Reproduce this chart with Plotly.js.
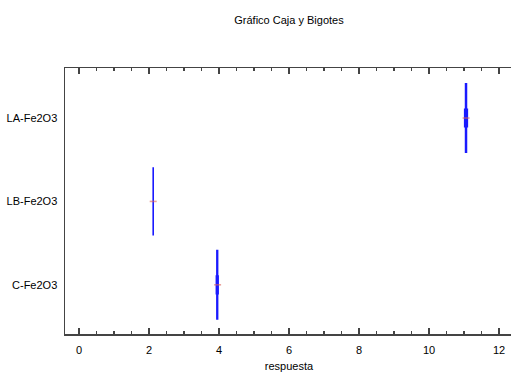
<!DOCTYPE html>
<html>
<head>
<meta charset="utf-8">
<script src="https://cdn.plot.ly/plotly-3.0.1.min.js"></script>
<style>
html,body{margin:0;padding:0;overflow:hidden;background:#fff;width:511px;height:374px;}
#chart{width:520px;height:374px;}
</style>
</head>
<body>
<div id="chart"></div>
<script>
// Data
var categories = ['C-Fe2O3', 'LB-Fe2O3', 'LA-Fe2O3'];
var lowerFence = [3.925, 2.12, 11.02];
var q1Values   = [3.94, 2.12, 11.045];
var medians    = [3.95, 2.12, 11.06];
var q3Values   = [3.96, 2.12, 11.07];
var upperFence = [3.975, 2.12, 11.095];
var means      = [3.96, 2.12, 11.06];
var xTickVals  = [0, 2, 4, 6, 8, 10, 12];

var traces = [];
for (var i = 0; i < categories.length; i++) {
  traces.push({
    type: 'box',
    orientation: 'h',
    y: [categories[i]],
    q1: [q1Values[i]],
    median: [medians[i]],
    q3: [q3Values[i]],
    lowerfence: [lowerFence[i]],
    upperfence: [upperFence[i]],
    width: 0.82,
    whiskerwidth: 0.28,
    line: {color: '#1a1aff', width: 1.6},
    fillcolor: '#1a1aff',
    boxpoints: false,
    hoverinfo: 'skip',
    showlegend: false
  });
}
traces.push({
  type: 'scatter',
  mode: 'markers',
  x: means,
  y: categories,
  marker: {symbol: 'line-ew', size: 5, line: {color: 'rgba(220,100,90,0.6)', width: 1.6}},
  hoverinfo: 'skip',
  showlegend: false
});

var layout = {
  width: 520,
  height: 374,
  margin: {l: 65, r: 7, t: 68, b: 40},
  paper_bgcolor: '#ffffff',
  plot_bgcolor: '#ffffff',
  font: {family: 'Liberation Sans, Arial, sans-serif', size: 11, color: '#000'},
  title: {
    text: 'Gráfico Caja y Bigotes',
    font: {family: 'Liberation Sans, Arial, sans-serif', size: 11, color: '#000'},
    x: 0.5, xref: 'paper', xanchor: 'center',
    y: 0.946, yref: 'container', yanchor: 'middle'
  },
  xaxis: {
    range: [-0.4, 12.4],
    tickmode: 'array',
    tickvals: xTickVals,
    ticktext: xTickVals.map(String),
    ticks: 'inside',
    ticklen: 6,
    tickwidth: 1.2,
    tickcolor: '#444',
    minor: {dtick: 0.5, tick0: 0, ticks: 'inside', ticklen: 3, tickwidth: 1.2, tickcolor: '#444', showgrid: false},
    showline: true,
    linecolor: '#444',
    linewidth: 1.5,
    mirror: 'ticks',
    showgrid: false,
    zeroline: false,
    ticklabelstandoff: 5,
    tickfont: {size: 11, color: '#000'},
    title: {text: 'respuesta', font: {size: 11, color: '#000'}, standoff: 7}
  },
  yaxis: {
    type: 'category',
    categoryorder: 'array',
    categoryarray: categories,
    range: [-0.59, 2.6],
    ticks: '',
    showline: true,
    linecolor: '#444',
    linewidth: 1.5,
    mirror: true,
    showgrid: false,
    zeroline: false,
    ticklabelstandoff: 4,
    tickfont: {size: 11, color: '#000'}
  },
  boxmode: 'overlay'
};

Plotly.newPlot('chart', traces, layout, {staticPlot: true, displayModeBar: false});
</script>
</body>
</html>
